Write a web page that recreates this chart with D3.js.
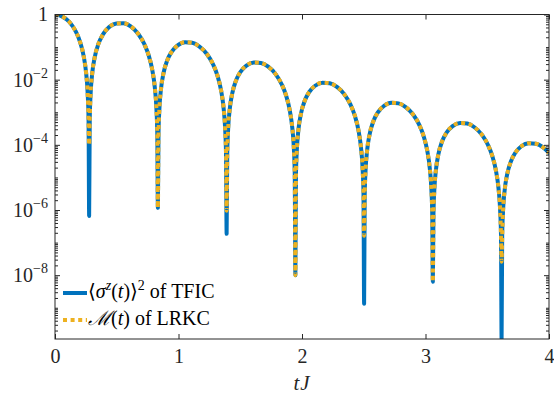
<!DOCTYPE html>
<html>
<head>
<meta charset="utf-8">
<script src="https://cdn.jsdelivr.net/npm/d3@7"></script>
<style>
  html, body { margin: 0; padding: 0; background: #fff; }
  svg { display: block; font-family: 'Liberation Serif', 'DejaVu Serif', serif; }
  .axis text { font-family: 'Liberation Serif', 'DejaVu Serif', serif; font-size: 20px; fill: #262626; }
  .axis line { stroke: #262626; }
</style>
</head>
<body>
<div id="app"></div>
<script>
// tJ sample points
const tValues = [
  0, 0.028, 0.0565, 0.1165, 0.1665, 0.2015, 0.2315, 0.2515, 0.2645, 0.2715, 0.2765,
  0.2815, 0.2885, 0.3015, 0.3215, 0.3515, 0.3865, 0.4365, 0.4965, 0.5548, 0.6131, 0.6731, 0.7231, 0.7581, 0.7881, 0.8081, 0.8211, 0.8281, 0.8331,
  0.8381, 0.8451, 0.8581, 0.8781, 0.9081, 0.9431, 0.9931, 1.0531, 1.1114, 1.1697, 1.2297, 1.2797, 1.3147, 1.3447, 1.3647, 1.3777, 1.3847, 1.3897,
  1.3947, 1.4017, 1.4147, 1.4347, 1.4647, 1.4997, 1.5497, 1.6097, 1.668, 1.7263, 1.7863, 1.8363, 1.8713, 1.9013, 1.9213, 1.9343, 1.9413, 1.9463,
  1.9513, 1.9583, 1.9713, 1.9913, 2.0213, 2.0563, 2.1063, 2.1663, 2.2246, 2.2829, 2.3429, 2.3929, 2.4279, 2.4579, 2.4779, 2.4909, 2.4979, 2.5029,
  2.5079, 2.5149, 2.5279, 2.5479, 2.5779, 2.6129, 2.6629, 2.7229, 2.7812, 2.8395, 2.8995, 2.9495, 2.9845, 3.0145, 3.0345, 3.0475, 3.0545, 3.0595,
  3.0645, 3.0715, 3.0845, 3.1045, 3.1345, 3.1695, 3.2195, 3.2795, 3.3378, 3.3961, 3.4561, 3.5061, 3.5411, 3.5711, 3.5911, 3.6041, 3.6111, 3.6161,
  3.6211, 3.6281, 3.6411, 3.6611, 3.6911, 3.7261, 3.7761, 3.8361, 3.8944, 3.9527, 4
]

// <sigma^z(t)>^2 of TFIC
const tficValues = [
  1, 0.964, 0.877, 0.587, 0.310, 0.150, 0.0542, 0.0166, 3.79e-3, 6.53e-4, 6.6e-7,
  6.46e-4, 3.69e-3, 1.57e-2, 4.86e-2, 0.125, 0.238, 0.403, 0.532, 0.541, 0.435, 0.256, 0.124, 5.64e-2, 1.95e-2, 5.82e-3, 1.30e-3, 2.22e-4, 1.17e-6,
  2.17e-4, 1.22e-3, 5.12e-3, 1.55e-2, 3.84e-2, 7.03e-2, 0.113, 0.141, 0.135, 0.104, 6.15e-2, 2.97e-2, 1.36e-2, 4.69e-3, 1.40e-3, 3.13e-4, 5.35e-5, 1.86e-7,
  5.20e-5, 2.94e-4, 1.23e-3, 3.72e-3, 9.20e-3, 1.69e-2, 2.71e-2, 3.37e-2, 3.24e-2, 2.50e-2, 1.48e-2, 7.13e-3, 3.25e-3, 1.12e-3, 3.35e-4, 7.52e-5, 1.28e-5, 1.0e-8,
  1.25e-5, 7.06e-5, 2.95e-4, 8.95e-4, 2.21e-3, 4.06e-3, 6.52e-3, 8.11e-3, 7.80e-3, 6.01e-3, 3.55e-3, 1.71e-3, 7.82e-4, 2.70e-4, 8.05e-5, 1.81e-5, 3.08e-6, 1.32e-9,
  3.00e-6, 1.69e-5, 7.08e-5, 2.15e-4, 5.31e-4, 9.73e-4, 1.56e-3, 1.95e-3, 1.87e-3, 1.44e-3, 8.51e-4, 4.11e-4, 1.87e-4, 6.49e-5, 1.93e-5, 4.34e-6, 7.40e-7, 6.3e-9,
  7.21e-7, 4.07e-6, 1.70e-5, 5.16e-5, 1.28e-4, 2.34e-4, 3.76e-4, 4.68e-4, 4.50e-4, 3.47e-4, 2.05e-4, 9.89e-5, 4.51e-5, 1.56e-5, 4.65e-6, 1.04e-6, 1.78e-7, 1.1e-10,
  1.73e-7, 9.77e-7, 4.08e-6, 1.24e-5, 3.06e-5, 5.61e-5, 9.02e-5, 1.12e-4, 1.08e-4, 8.32e-5, 5.64e-5
]

// M(t) of LRKC (same curve, shallower dips)
const lrkcValues = [
  1, 0.964, 0.877, 0.587, 0.310, 0.150, 0.0542, 0.0166, 3.79e-3, 6.53e-4, 1.0e-4,
  6.46e-4, 3.69e-3, 1.57e-2, 4.86e-2, 0.125, 0.238, 0.403, 0.532, 0.541, 0.435, 0.256, 0.124, 5.64e-2, 1.95e-2, 5.82e-3, 1.30e-3, 2.22e-4, 1.17e-6,
  2.17e-4, 1.22e-3, 5.12e-3, 1.55e-2, 3.84e-2, 7.03e-2, 0.113, 0.141, 0.135, 0.104, 6.15e-2, 2.97e-2, 1.36e-2, 4.69e-3, 1.40e-3, 3.13e-4, 5.35e-5, 9.5e-7,
  5.20e-5, 2.94e-4, 1.23e-3, 3.72e-3, 9.20e-3, 1.69e-2, 2.71e-2, 3.37e-2, 3.24e-2, 2.50e-2, 1.48e-2, 7.13e-3, 3.25e-3, 1.12e-3, 3.35e-4, 7.52e-5, 1.28e-5, 1.0e-8,
  1.25e-5, 7.06e-5, 2.95e-4, 8.95e-4, 2.21e-3, 4.06e-3, 6.52e-3, 8.11e-3, 7.80e-3, 6.01e-3, 3.55e-3, 1.71e-3, 7.82e-4, 2.70e-4, 8.05e-5, 1.81e-5, 3.08e-6, 1.62e-7,
  3.00e-6, 1.69e-5, 7.08e-5, 2.15e-4, 5.31e-4, 9.73e-4, 1.56e-3, 1.95e-3, 1.87e-3, 1.44e-3, 8.51e-4, 4.11e-4, 1.87e-4, 6.49e-5, 1.93e-5, 4.34e-6, 7.40e-7, 6.3e-9,
  7.21e-7, 4.07e-6, 1.70e-5, 5.16e-5, 1.28e-4, 2.34e-4, 3.76e-4, 4.68e-4, 4.50e-4, 3.47e-4, 2.05e-4, 9.89e-5, 4.51e-5, 1.56e-5, 4.65e-6, 1.04e-6, 1.78e-7, 2.6e-8,
  1.73e-7, 9.77e-7, 4.08e-6, 1.24e-5, 3.06e-5, 5.61e-5, 9.02e-5, 1.12e-4, 1.08e-4, 8.32e-5, 5.64e-5
]

const xTicks = [0, 1, 2, 3, 4]
const yTicks = [1, 1e-2, 1e-4, 1e-6, 1e-8]
const yTickExponents = [null, '−2', '−4', '−6', '−8']

const serif = "'Liberation Serif', 'DejaVu Serif', serif"

const margin = { top: 14.5, right: 5, bottom: 58, left: 55 }
const width = 554 - margin.left - margin.right
const height = 397 - margin.top - margin.bottom

const blue = '#0072BD'
const orange = '#EDB120'

const svg = d3
  .select('#app')
  .append('svg')
  .attr('width', 554)
  .attr('height', 397)
  .append('g')
  .attr('transform', `translate(${margin.left},${margin.top})`)

const x = d3.scaleLinear().domain([0, 4]).range([0, width])
const y = d3
  .scaleLog()
  .domain([d3.min(tficValues), d3.max(tficValues)])
  .range([height, 0])

svg.append('clipPath').attr('id', 'plot-clip')
  .append('rect').attr('width', width).attr('height', height)

const tfic = tValues.map((t, i) => ({ t, v: tficValues[i] }))
const lrkc = tValues.map((t, i) => ({ t, v: lrkcValues[i] }))

const line = d3.line()
  .x(d => x(d.t))
  .y(d => y(d.v))
  .curve(d3.curveMonotoneX)

const plot = svg.append('g').attr('clip-path', 'url(#plot-clip)')

plot.append('path')
  .datum(tfic)
  .attr('d', line)
  .attr('fill', 'none')
  .attr('stroke', blue)
  .attr('stroke-width', 4)
  .attr('stroke-linejoin', 'round')
  .attr('stroke-linecap', 'round')

plot.append('path')
  .datum(lrkc)
  .attr('d', line)
  .attr('fill', 'none')
  .attr('stroke', orange)
  .attr('stroke-width', 4)
  .attr('stroke-dasharray', '4,3.6')

// minor ticks for the log axis
const [yMin, yMax] = y.domain()
const minorTicks = []
for (let e = -10; e <= 0; e++) {
  for (let k = 1; k <= 9; k++) {
    const v = k * Math.pow(10, e)
    if (v < yMin || v > yMax) continue
    if (k === 1 && e % 2 === 0) continue
    minorTicks.push(v)
  }
}

// Y axes (left with labels, right mirrored)
const yLeft = svg.append('g')
  .attr('class', 'axis')
  .call(d3.axisLeft(y).tickValues(yTicks).tickSize(-5).tickPadding(7).tickFormat(() => ''))
yLeft.selectAll('.tick text').each(function(d, i) {
  const t = d3.select(this)
  if (yTickExponents[i] === null) {
    t.text('1')
  } else {
    t.append('tspan').text('10')
    t.append('tspan').attr('font-size', 14).attr('dy', -9).text(yTickExponents[i])
  }
})
svg.append('g').attr('class', 'axis')
  .call(d3.axisLeft(y).tickValues(minorTicks).tickSize(-3).tickFormat(() => ''))
svg.append('g').attr('class', 'axis')
  .attr('transform', `translate(${width},0)`)
  .call(d3.axisRight(y).tickValues(yTicks).tickSize(-5).tickFormat(() => ''))
svg.append('g').attr('class', 'axis')
  .attr('transform', `translate(${width},0)`)
  .call(d3.axisRight(y).tickValues(minorTicks).tickSize(-3).tickFormat(() => ''))

// X axes
svg.append('g')
  .attr('class', 'axis')
  .attr('transform', `translate(0,${height})`)
  .call(d3.axisBottom(x).tickValues(xTicks).tickSize(-5).tickPadding(10).tickFormat(d3.format('d')))
svg.append('g')
  .attr('class', 'axis')
  .call(d3.axisTop(x).tickValues(xTicks).tickSize(-5).tickFormat(() => ''))

svg.selectAll('.axis .domain').remove()
svg.selectAll('.axis').attr('font-family', serif).attr('font-size', 20)

// Box
svg.append('rect')
  .attr('width', width)
  .attr('height', height)
  .attr('fill', 'none')
  .attr('stroke', '#262626')
  .attr('stroke-width', 1)

// X axis label
svg.append('text')
  .attr('x', width / 2)
  .attr('y', 390 - margin.top)
  .attr('text-anchor', 'middle')
  .attr('font-family', serif)
  .attr('font-size', 21)
  .attr('font-style', 'italic')
  .attr('fill', '#262626')
  .attr('letter-spacing', 1)
  .text('tJ')

// Legend
const legend = svg.append('g')
  .attr('font-family', serif)
  .attr('transform', `translate(${63 - margin.left},${293 - margin.top})`)
legend.append('line')
  .attr('x1', 0).attr('x2', 24).attr('y1', 0).attr('y2', 0)
  .attr('stroke', blue).attr('stroke-width', 4)
legend.append('line')
  .attr('x1', 0).attr('x2', 24).attr('y1', 27).attr('y2', 27)
  .attr('stroke', orange).attr('stroke-width', 4).attr('stroke-dasharray', '4,3.6')

const l1 = legend.append('text').attr('x', 25).attr('y', 4.5).attr('font-size', 20).attr('fill', '#000')
l1.append('tspan').text('⟨')
l1.append('tspan').attr('font-style', 'italic').text('σ')
l1.append('tspan').attr('font-style', 'italic').attr('font-size', 14).attr('dy', -8).text('z')
l1.append('tspan').attr('dy', 8).text('(')
l1.append('tspan').attr('font-style', 'italic').text('t')
l1.append('tspan').text(')⟩')
l1.append('tspan').attr('font-size', 14).attr('dy', -8).text('2')
l1.append('tspan').attr('dy', 8).text(' of TFIC')

const l2 = legend.append('text').attr('x', 25).attr('y', 32).attr('font-size', 20).attr('fill', '#000')
l2.append('tspan').attr('font-style', 'italic').text('ℳ')
l2.append('tspan').text('(')
l2.append('tspan').attr('font-style', 'italic').text('t')
l2.append('tspan').text(') of LRKC')
</script>
</body>
</html>
